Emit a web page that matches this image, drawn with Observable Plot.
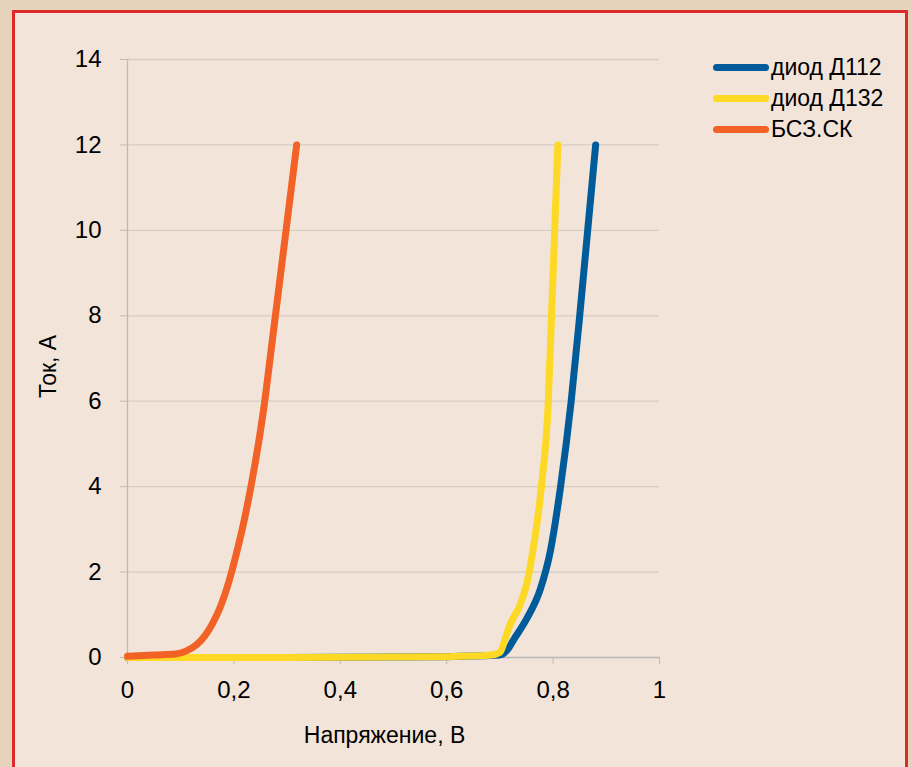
<!DOCTYPE html>
<html>
<head>
<meta charset="utf-8">
<script src="https://cdn.jsdelivr.net/npm/d3@7"></script>
<script src="https://cdn.jsdelivr.net/npm/@observablehq/plot@0.6"></script>
<style>
  html, body { margin: 0; padding: 0; width: 912px; height: 767px; overflow: hidden; background: #e6d3bb; font-family: "Liberation Sans", Arial, sans-serif; }
  #panel { position: absolute; left: 12px; top: 10px; width: 890px; height: 800px; border: 3px solid #dc2b2b; background: #f2e4d8; }
  #chart { position: absolute; left: 0; top: 0; }
  #legend { position: absolute; left: 713px; top: 52px; }
  .row { height: 31px; display: flex; align-items: center; font-size: 23px; color: #000; }
  .sw { width: 56px; height: 7px; border-radius: 4px; margin-right: 2px; }
</style>
</head>
<body>
<div id="panel"></div>
<div id="chart"></div>
<div id="legend"></div>
<script>
const seriesNames = ["диод Д112", "диод Д132", "БСЗ.СК"];
const seriesColors = ["#005b9b", "#fdd825", "#f26125"];

const d112U = [0, 0.3, 0.6, 0.69, 0.705, 0.714, 0.726, 0.751, 0.776, 0.795, 0.814, 0.834, 0.85, 0.865, 0.88];
const d112I = [0, 0, 0.02, 0.05, 0.08, 0.18, 0.42, 0.92, 1.6, 2.5, 4, 6, 8, 10, 12];

const d132U = [0, 0.3, 0.6, 0.68, 0.70, 0.711, 0.72, 0.735, 0.75, 0.762, 0.778, 0.791, 0.797, 0.803, 0.809];
const d132I = [0, 0, 0.02, 0.05, 0.12, 0.48, 0.8, 1.15, 1.7, 2.5, 4, 6, 8, 10, 12];

const bsU = [0, 0.05, 0.09, 0.11, 0.13, 0.145, 0.16, 0.175, 0.19, 0.205, 0.22, 0.232, 0.246, 0.258, 0.268, 0.278, 0.298, 0.318];
const bsI = [0.03, 0.06, 0.08, 0.15, 0.3, 0.5, 0.8, 1.2, 1.75, 2.45, 3.25, 4, 5, 6, 7, 8, 10, 12];

const xTicks = [0, 0.2, 0.4, 0.6, 0.8, 1];
const xTickLabels = ["0", "0,2", "0,4", "0,6", "0,8", "1"];
const yTicks = [0, 2, 4, 6, 8, 10, 12, 14];

const xTitle = "Напряжение, В";
const yTitle = "Ток, А";

const rows = [];
[[d112U, d112I], [d132U, d132I], [bsU, bsI]].forEach(([u, i], k) => {
  u.forEach((v, j) => rows.push({series: seriesNames[k], u: v, i: i[j]}));
});

const axisColor = "#bfbab5";
const gridColor = "#d6cdc5";

const chart = Plot.plot({
  width: 912,
  height: 767,
  marginLeft: 127,
  marginRight: 253,
  marginTop: 59,
  marginBottom: 110,
  style: {background: "transparent", fontFamily: "'Liberation Sans', Arial, sans-serif", fontSize: "24px", color: "#000"},
  x: {domain: [0, 1]},
  y: {domain: [0, 14]},
  color: {domain: seriesNames, range: seriesColors},
  marks: [
    Plot.gridY(yTicks, {stroke: gridColor, strokeOpacity: 1, strokeWidth: 1.3}),
    Plot.ruleX([0], {stroke: axisColor, strokeWidth: 1.3}),
    Plot.ruleY([0], {stroke: axisColor, strokeWidth: 1.3}),
    Plot.axisY(yTicks, {tickSize: 7, tickPadding: 19, stroke: axisColor, fill: "#000", label: null, fontSize: 24}),
    Plot.axisX(xTicks, {tickSize: 7, tickPadding: 16, stroke: axisColor, fill: "#000", label: null, fontSize: 24,
      tickFormat: d => xTickLabels[xTicks.indexOf(d)]}),
    Plot.line(rows, {x: "u", y: "i", z: "series", stroke: "series", strokeWidth: 7,
      strokeLinecap: "round", strokeLinejoin: "round", curve: "monotone-x"}),
    Plot.text([xTitle], {frameAnchor: "bottom", text: d => d, dy: 85, dx: -9, lineAnchor: "bottom", textAnchor: "middle", fontSize: 23, fill: "#000"}),
    Plot.text([yTitle], {frameAnchor: "left", text: d => d, rotate: -90, dx: -72, dy: 8, lineAnchor: "bottom", textAnchor: "middle", fontSize: 23, fill: "#000"})
  ]
});
document.getElementById("chart").appendChild(chart);

const leg = document.getElementById("legend");
seriesNames.forEach((n, k) => {
  const r = document.createElement("div");
  r.className = "row";
  const s = document.createElement("span");
  s.className = "sw";
  s.style.background = seriesColors[k];
  const t = document.createElement("span");
  t.textContent = n;
  r.appendChild(s); r.appendChild(t);
  leg.appendChild(r);
});
</script>
</body>
</html>
